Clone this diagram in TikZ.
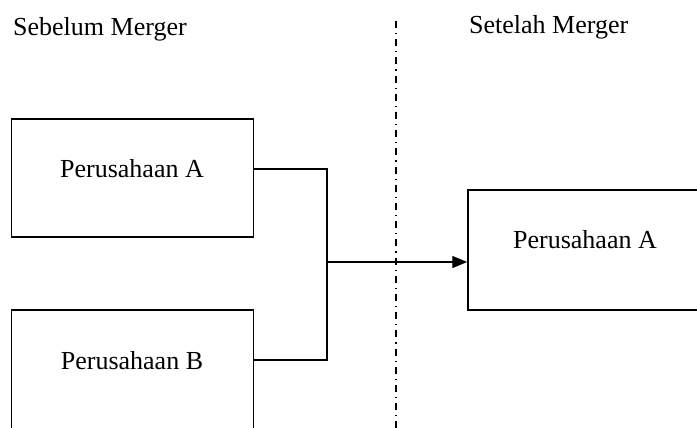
\documentclass[tikz,border=0pt]{standalone}
\usepackage{fontspec}
\setmainfont{Liberation Serif}
\usetikzlibrary{arrows.meta}
\begin{document}
\begin{tikzpicture}[x=1pt,y=-1pt,
  box/.style={draw,line width=1.5pt,inner sep=0pt},
  lbl/.style={font=\fontsize{26}{30}\selectfont,inner sep=0pt},
  conn/.style={line width=1.4pt},
  divider/.style={line width=1.3pt,dash pattern=on 7pt off 5pt on 1.2pt off 5pt}]
\useasboundingbox (0,0) rectangle (697,428);
\clip (0,0) rectangle (697,428);
% headings
\node[lbl,anchor=base west] (hl) at (13,36) {Sebelum Merger};
\node[lbl,anchor=base west] (hr) at (469,34) {Setelah Merger};
% divider
\coordinate (dtop) at (396,21);
\coordinate (dbot) at (396,430);
\draw[divider] (dtop) -- (dbot);
% boxes
\node[box,minimum width=242pt,minimum height=118pt] (ba) at (132.5,178) {};
\node[box,minimum width=242pt,minimum height=130pt] (bb) at (132.5,375) {};
\node[box,minimum width=270pt,minimum height=120pt] (br) at (603,250) {};
% texts
\node[lbl,anchor=base] (ta) at (132,178) {Perusahaan A};
\node[lbl,anchor=base] (tb) at (132,369) {Perusahaan B};
\node[lbl,anchor=base] (tr) at (585,248) {Perusahaan A};
% connectors
\coordinate (j) at (327,262);
\draw[conn] (ba.east |- ta) -| (j) |- (bb.east |- tb);
\draw[conn,-{Triangle[length=15pt,width=12pt]}] (j) -- (br.west |- j);
\end{tikzpicture}
\end{document}
